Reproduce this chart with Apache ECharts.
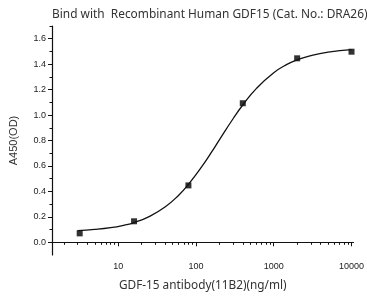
<!DOCTYPE html>
<html>
<head>
<meta charset="utf-8">
<script src="https://cdn.jsdelivr.net/npm/echarts@6/dist/echarts.min.js"></script>
<style>
  html, body { margin: 0; padding: 0; background: #fff; }
  #main { width: 367px; height: 297px; }
</style>
</head>
<body>
<div id="main"></div>
<script>
// measured points (ng/ml, A450)
var conc = [3.2, 16, 80, 400, 2000, 10000];
var od = [0.07, 0.165, 0.447, 1.093, 1.446, 1.498];

// fitted curve
var curveX = [3, 5, 8, 12, 16, 25, 40, 60, 80, 120, 160, 200, 300, 400, 600, 1000, 1500, 2000, 3000, 5000, 10000];
var curveY = [0.092, 0.101, 0.115, 0.135, 0.155, 0.202, 0.277, 0.370, 0.455, 0.598, 0.712, 0.805, 0.971, 1.079, 1.210, 1.333, 1.400, 1.434, 1.468, 1.495, 1.514];

// ticks
var xMajor = [10, 100, 1000, 10000];
var xMinor = [2, 3, 4, 5, 6, 7, 8, 9, 20, 30, 40, 50, 60, 70, 80, 90,
  200, 300, 400, 500, 600, 700, 800, 900, 2000, 3000, 4000, 5000, 6000, 7000, 8000, 9000];
var yMajor = [0, 0.2, 0.4, 0.6, 0.8, 1.0, 1.2, 1.4, 1.6];
var yMinor = [0.1, 0.3, 0.5, 0.7, 0.9, 1.1, 1.3, 1.5, 1.7];

var chart = echarts.init(document.getElementById('main'));

var pts = conc.map(function (c, i) { return [c, od[i]]; });
var curve = curveX.map(function (c, i) { return [c, curveY[i]]; });

var lineCol = '#111';

chart.setOption({
  animation: false,
  title: {
    text: 'Bind with  Recombinant Human GDF15 (Cat. No.: DRA26)',
    left: 47,
    top: 4,
    textStyle: { fontFamily: 'Noto Sans', fontSize: 11.9, fontWeight: 'normal', color: '#333' }
  },
  grid: { left: 47, top: 26, width: 310, height: 229, containLabel: false },
  xAxis: [
    {
      type: 'log',
      logBase: 10,
      min: 1.41,
      max: 10600,
      name: 'GDF-15 antibody(11B2)(ng/ml)',
      nameLocation: 'middle',
      nameGap: 25,
      nameTextStyle: { fontFamily: 'Noto Sans', fontSize: 11.8, color: '#333' },
      axisLine: { lineStyle: { color: lineCol, width: 1.2 } },
      axisTick: { customValues: xMajor, length: 4, lineStyle: { color: lineCol } },
      axisLabel: {
        customValues: xMajor,
        formatter: function (v) { return String(v); },
        fontFamily: 'Arial',
        fontSize: 9,
        color: '#222',
        margin: 7
      },
      splitLine: { show: false }
    },
    {
      type: 'log',
      logBase: 10,
      min: 1.41,
      max: 10600,
      position: 'bottom',
      axisLine: { show: false },
      axisTick: { customValues: xMinor, length: 2.5, lineStyle: { color: lineCol } },
      axisLabel: { show: false },
      splitLine: { show: false }
    }
  ],
  yAxis: [
    {
      type: 'value',
      min: -0.1,
      max: 1.7,
      name: 'A450(OD)',
      nameLocation: 'middle',
      nameGap: 33,
      nameTextStyle: { fontFamily: 'Arial', fontSize: 11, color: '#333' },
      axisLine: { show: true, lineStyle: { color: lineCol, width: 1.2 } },
      axisTick: { show: true, customValues: yMajor, length: 4, lineStyle: { color: lineCol } },
      axisLabel: {
        customValues: yMajor,
        formatter: function (v) { return v.toFixed(1); },
        fontFamily: 'Arial',
        fontSize: 9,
        color: '#222',
        margin: 6
      },
      splitLine: { show: false }
    },
    {
      type: 'value',
      min: -0.1,
      max: 1.7,
      position: 'left',
      axisLine: { show: false },
      axisTick: { show: true, customValues: yMinor, length: 2.5, lineStyle: { color: lineCol } },
      axisLabel: { show: false },
      splitLine: { show: false }
    }
  ],
  series: [
    {
      type: 'line',
      data: curve,
      smooth: true,
      showSymbol: false,
      symbol: 'none',
      lineStyle: { color: lineCol, width: 1.3 }
    },
    {
      type: 'scatter',
      data: pts,
      symbol: 'rect',
      symbolSize: 6,
      itemStyle: { color: '#000' }
    }
  ]
});
</script>
</body>
</html>
